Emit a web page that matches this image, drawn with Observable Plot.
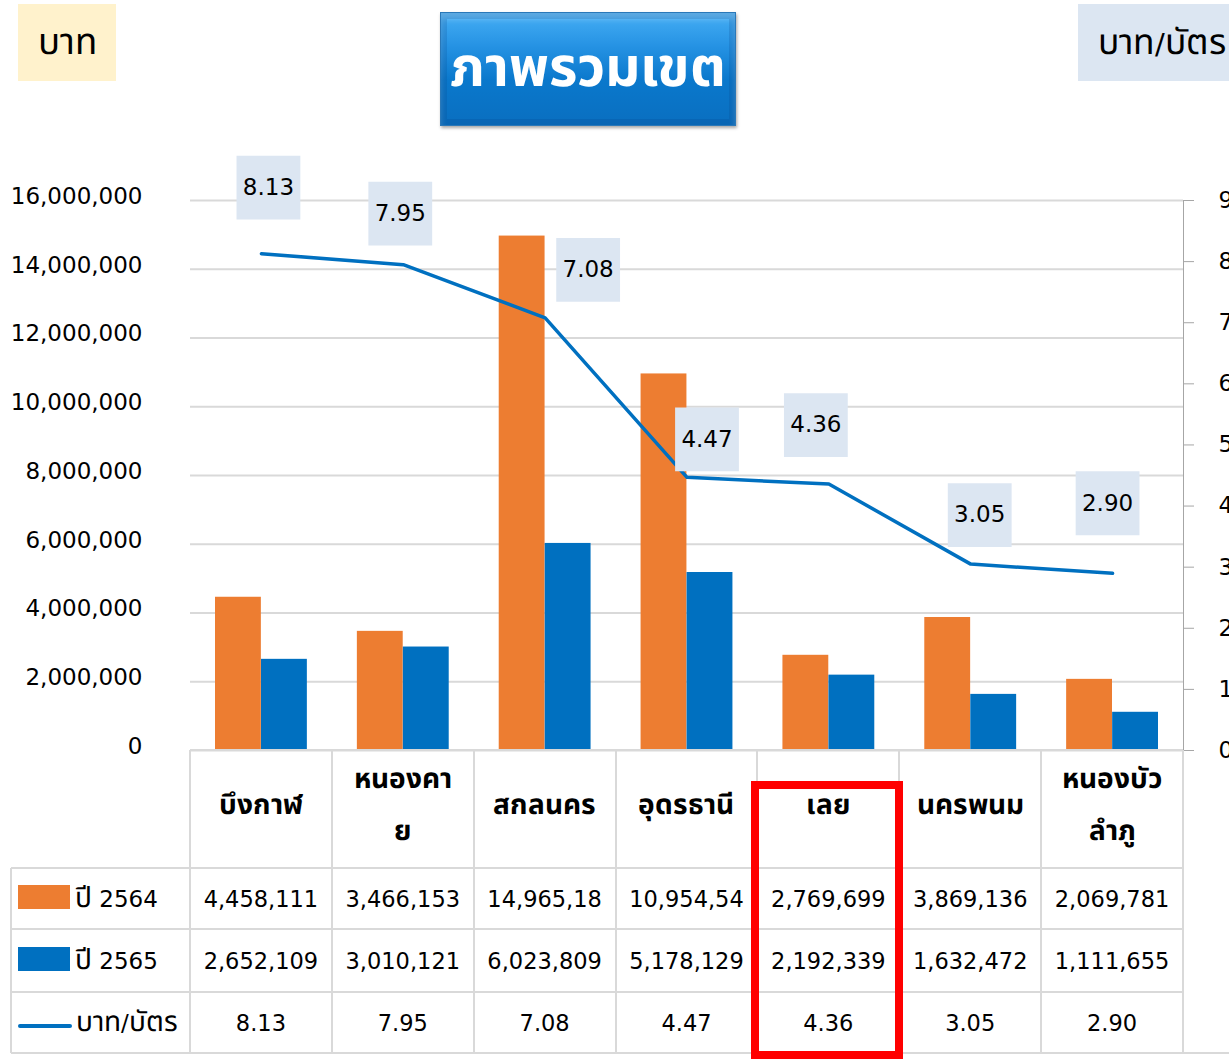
<!DOCTYPE html>
<html>
<head>
<meta charset="utf-8">
<script src="https://cdn.jsdelivr.net/npm/d3@7"></script>
<script src="https://cdn.jsdelivr.net/npm/@observablehq/plot@0.6"></script>
<style>
  @font-face { font-family: "ThaiX"; font-weight: 400;
    src: local("Noto Sans Thai"), local("Noto Sans Thai Regular"), local("NotoSansThai-Regular"), local("Noto Sans Thai UI"), local("Garuda"), local("Loma");
    size-adjust: 122%; unicode-range: U+0E00-0E7F; }
  @font-face { font-family: "ThaiX"; font-weight: 700;
    src: local("Noto Sans Thai Bold"), local("NotoSansThai-Bold"), local("Noto Sans Thai UI Bold"), local("Garuda Bold"), local("Garuda-Bold"), local("Loma Bold");
    size-adjust: 122%; unicode-range: U+0E00-0E7F; }
  html, body { margin: 0; padding: 0; background: #fff; }
  body { position: relative; width: 1229px; height: 1060px; overflow: hidden;
         font-family: "ThaiX", "DejaVu Sans", "Noto Sans Thai", "Noto Sans", sans-serif; color: #000; }
  .box { position: absolute; display: flex; align-items: center; justify-content: center; }
  #chart { position: absolute; left: 0; top: 0; }
  .line { position: absolute; background: #d9d9d9; }
  .cell { position: absolute; display: flex; align-items: center; justify-content: center;
          text-align: center; font-size: 22.5px; white-space: nowrap; overflow: hidden; }
  .hdr { font-size: 23px; font-weight: bold; line-height: 52px; white-space: normal;
         word-break: break-all; padding: 0 17px 6px; box-sizing: border-box; }
  .leg { font-size: 23px; justify-content: flex-start; }
</style>
</head>
<body>
<div class="box" style="left:18px;top:4px;width:98px;height:77px;background:#fff2cc;font-size:30px;">บาท</div>
<div class="box" style="left:440px;top:12px;width:296px;height:114px;box-sizing:border-box;border:1px solid #2a78b8;
  background:linear-gradient(to bottom,#45aef5 0%,#2592e3 30%,#0a78cc 60%,#0a6fc0 100%);
  box-shadow: inset 0 0 0 6px rgba(0,60,130,0.18), inset 0 6px 6px rgba(255,255,255,0.25), 1px 2px 3px rgba(0,0,0,0.35);
  color:#fff;font-size:45px;font-weight:bold;">ภาพรวมเขต</div>
<div class="box" style="left:1078px;top:4px;width:160px;height:77px;background:#dce6f2;font-size:29px;justify-content:flex-start;padding-left:20px;box-sizing:border-box;">บาท/บัตร</div>
<div id="chart"></div>
<div id="table"></div>
<script>
// ---- data ----
const categories = ["บึงกาฬ", "หนองคาย", "สกลนคร", "อุดรธานี", "เลย", "นครพนม", "หนองบัวลำภู"];
const values2564 = [4458111, 3466153, 14965180, 10954540, 2769699, 3869136, 2069781];
const values2565 = [2652109, 3010121, 6023809, 5178129, 2192339, 1632472, 1111655];
const bahtPerCard = [8.13, 7.95, 7.08, 4.47, 4.36, 3.05, 2.90];
const seriesNames = ["ปี 2564", "ปี 2565", "บาท/บัตร"];
const leftTicks = [0, 2000000, 4000000, 6000000, 8000000, 10000000, 12000000, 14000000, 16000000];
const rightTicks = [0, 1, 2, 3, 4, 5, 6, 7, 8, 9];
// label placement (pixel nudges, like hand-moved Excel data labels)
const labelNudges = [[7, -66], [-3, -51], [43, -48], [20, -38], [-13, -59], [9, -49], [-5, -70]];

const ORANGE = "#ed7d31", BLUE = "#0070c0";
const FONT = '"ThaiX", "DejaVu Sans", "Noto Sans Thai", "Noto Sans", sans-serif';

const rows = categories.map((c, i) => ({c, v1: values2564[i], v2: values2565[i], r: bahtPerCard[i]}));
const y2 = d3.scaleLinear([0, 9], [0, 16000000]);

const labelMarks = rows.flatMap((d, i) => {
  const [dx, dy] = labelNudges[i];
  return [
    Plot.dot([d], {x: "c", y: (d) => y2(d.r), symbol: "square", r: 36, fill: "#dce6f2", dx, dy}),
    Plot.text([d], {x: "c", y: (d) => y2(d.r), text: (d) => d.r.toFixed(2), dx, dy, fontSize: 23, fill: "#000"})
  ];
});

const chart = Plot.plot({
  width: 1229, height: 760,
  marginLeft: 190, marginRight: 46, marginTop: 200, marginBottom: 10,
  x: {domain: categories, padding: 0, round: false, axis: null},
  y: {domain: [0, 16000000], axis: null},
  style: {fontFamily: FONT, fontSize: "23px", color: "#000", background: "transparent", overflow: "visible"},
  marks: [
    Plot.gridY(leftTicks, {stroke: "#d9d9d9", strokeOpacity: 1, strokeWidth: 2}),
    Plot.barY(rows, {x: "c", y: "v1", fill: ORANGE, insetLeft: 25, insetRight: 71}),
    Plot.barY(rows, {x: "c", y: "v2", fill: BLUE, insetLeft: 71, insetRight: 25}),
    Plot.axisY(leftTicks, {anchor: "left", tickSize: 0, tickPadding: 48, tickFormat: d3.format(","), fontSize: 23, dy: -4, label: null, fill: "#000"}),
    Plot.axisY(rightTicks, {anchor: "right", y: y2, tickSize: 10, tickPadding: 25, stroke: "#a6a6a6", fill: "#000", tickFormat: (d) => d, fontSize: 23, label: null}),
    Plot.frame({anchor: "right", stroke: "#a6a6a6"}),
    Plot.line(rows, {x: "c", y: (d) => y2(d.r), stroke: BLUE, strokeWidth: 3.5}),
    ...labelMarks
  ]
});
document.getElementById("chart").appendChild(chart);

// ---- data table below the chart, columns from the chart's x scale ----
const xs = chart.scale("x");
const bw = xs.bandwidth;
const colLeft = (c) => xs.apply(c);
const table = document.getElementById("table");
const rowY = [750, 868, 929, 992, 1053];
const tableLeft = 11, legendRight = 190, tableRight = colLeft(categories[categories.length - 1]) + bw;
function addLine(x, y, w, h) {
  const el = document.createElement("div");
  el.className = "line";
  Object.assign(el.style, {left: x + "px", top: y + "px", width: w + "px", height: h + "px"});
  table.appendChild(el);
}
function addCell(x, y, w, h, html, cls) {
  const el = document.createElement("div");
  el.className = "cell" + (cls ? " " + cls : "");
  Object.assign(el.style, {left: x + "px", top: y + "px", width: w + "px", height: h + "px"});
  el.innerHTML = html;
  table.appendChild(el);
  return el;
}
// horizontal lines
addLine(legendRight, rowY[0] - 1, tableRight - legendRight, 2);
for (let r = 1; r < rowY.length; r++) addLine(tableLeft, rowY[r] - 1, (r === rowY.length - 1 ? 1229 : tableRight) - tableLeft, 2);
// vertical lines
addLine(tableLeft - 1, rowY[1], 2, rowY[4] - rowY[1]);
addLine(legendRight - 1, rowY[0], 2, rowY[4] - rowY[0]);
categories.forEach((c) => addLine(colLeft(c) + bw - 1, rowY[0], 2, rowY[4] - rowY[0]));

// header row
categories.forEach((c) => addCell(colLeft(c), rowY[0], bw, rowY[1] - rowY[0], c, "hdr"));
// value rows (Excel data-table style truncation for long numbers)
const fmt = (v) => { const s = d3.format(",")(v); return s.length > 9 ? s.slice(0, 9) : s; };
const series = [values2564.map(fmt), values2565.map(fmt), bahtPerCard.map((v) => v.toFixed(2))];
series.forEach((vals, r) => {
  const y = rowY[r + 1], h = rowY[r + 2] - rowY[r + 1];
  vals.forEach((t, i) => addCell(colLeft(categories[i]), y, bw, h, t));
});
// legend keys
const keys = [
  `<span style="display:inline-block;width:52px;height:24px;background:${ORANGE};margin-right:5px;margin-top:-4px"></span>`,
  `<span style="display:inline-block;width:52px;height:24px;background:${BLUE};margin-right:5px;margin-top:-4px"></span>`,
  `<span style="display:inline-block;width:54px;height:4px;border-radius:2px;background:${BLUE};margin-right:4px;margin-top:6px"></span>`
];
seriesNames.forEach((name, r) => {
  addCell(tableLeft + 7, rowY[r + 1], legendRight - tableLeft - 7, rowY[r + 2] - rowY[r + 1], keys[r] + `<span>${name}</span>`, "leg");
});
// highlight box around "เลย"
const hl = document.createElement("div");
Object.assign(hl.style, {position: "absolute", left: "751px", top: "781px", width: "152px", height: "278px",
  border: "8px solid #ff0000", boxSizing: "border-box"});
table.appendChild(hl);
</script>
</body>
</html>
